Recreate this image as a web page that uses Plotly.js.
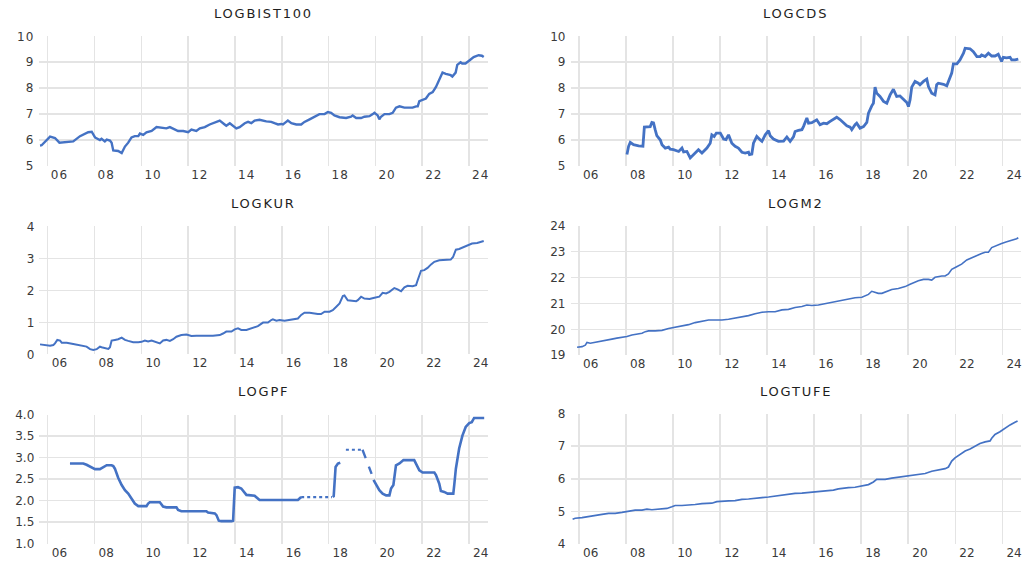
<!DOCTYPE html>
<html><head><meta charset="utf-8">
<script src="https://cdn.plot.ly/plotly-3.0.1.min.js"></script>
<style>
html,body{margin:0;padding:0;background:#fff;}
#chart{width:1034px;height:563px;}
.xtick text,.ytick text{letter-spacing:1px;}
.annotation-text{letter-spacing:1.8px;}
</style></head><body><div id="chart"></div>
<script>
// ---- Data (decimal years) ----
const bistDate = [2005.67,2005.74,2006.10,2006.31,2006.50,2007.09,2007.38,2007.59,2007.73,2007.88,2008.02,2008.23,2008.30,2008.44,2008.52,2008.66,2008.73,2008.80,2009.01,2009.16,2009.30,2009.44,2009.58,2009.72,2009.87,2009.94,2010.08,2010.22,2010.44,2010.65,2010.86,2011.07,2011.22,2011.36,2011.57,2011.79,2012.00,2012.14,2012.35,2012.50,2012.71,2012.92,2013.21,2013.35,2013.56,2013.63,2013.78,2013.92,2014.06,2014.20,2014.42,2014.56,2014.70,2014.84,2015.05,2015.34,2015.55,2015.69,2015.84,2015.98,2016.05,2016.19,2016.26,2016.41,2016.62,2016.83,2016.97,2017.19,2017.40,2017.61,2017.83,2017.97,2018.11,2018.25,2018.47,2018.75,2018.96,2019.03,2019.18,2019.39,2019.53,2019.75,2019.89,2019.96,2020.10,2020.17,2020.24,2020.39,2020.60,2020.74,2020.88,2021.03,2021.24,2021.59,2021.74,2021.81,2021.88,2022.02,2022.16,2022.30,2022.45,2022.59,2022.73,2022.87,2023.01,2023.22,2023.29,2023.43,2023.50,2023.64,2023.71,2023.85,2023.99,2024.20,2024.41,2024.55,2024.63];
const bistVal = [5.79,5.80,6.13,6.08,5.90,5.95,6.15,6.25,6.30,6.32,6.10,6.00,6.05,5.95,6.02,5.98,5.90,5.60,5.58,5.50,5.75,5.90,6.10,6.15,6.15,6.25,6.20,6.30,6.35,6.50,6.48,6.45,6.50,6.45,6.35,6.35,6.30,6.40,6.35,6.45,6.50,6.60,6.70,6.75,6.60,6.55,6.65,6.55,6.45,6.50,6.65,6.70,6.65,6.75,6.78,6.72,6.70,6.65,6.60,6.62,6.60,6.70,6.75,6.65,6.60,6.60,6.70,6.80,6.90,7.00,7.00,7.08,7.05,6.95,6.88,6.85,6.90,6.95,6.85,6.85,6.90,6.92,7.00,7.05,6.95,6.80,6.90,7.00,7.00,7.05,7.25,7.30,7.25,7.25,7.30,7.30,7.50,7.55,7.60,7.78,7.85,8.05,8.35,8.60,8.55,8.50,8.45,8.60,8.90,9.00,8.95,8.95,9.05,9.20,9.27,9.25,9.20];

const cdsDate = [2008.04,2008.11,2008.18,2008.32,2008.54,2008.65,2008.72,2008.78,2008.96,2009.03,2009.10,2009.17,2009.24,2009.31,2009.46,2009.53,2009.67,2009.81,2009.88,2010.02,2010.24,2010.38,2010.45,2010.59,2010.73,2010.80,2010.94,2011.08,2011.23,2011.44,2011.58,2011.65,2011.75,2011.84,2012.01,2012.15,2012.25,2012.36,2012.50,2012.64,2012.78,2012.93,2013.07,2013.21,2013.25,2013.35,2013.42,2013.56,2013.71,2013.78,2013.92,2014.06,2014.13,2014.27,2014.48,2014.70,2014.84,2014.91,2014.98,2015.12,2015.19,2015.33,2015.48,2015.55,2015.69,2015.76,2015.90,2016.11,2016.25,2016.40,2016.54,2016.68,2016.82,2016.96,2017.10,2017.25,2017.39,2017.53,2017.60,2017.74,2017.81,2017.95,2018.10,2018.24,2018.31,2018.45,2018.52,2018.59,2018.66,2018.80,2018.95,2019.09,2019.23,2019.37,2019.51,2019.65,2019.80,2019.94,2020.01,2020.08,2020.15,2020.29,2020.43,2020.50,2020.65,2020.79,2020.86,2021.00,2021.14,2021.21,2021.28,2021.50,2021.64,2021.78,2021.85,2021.92,2022.07,2022.20,2022.35,2022.42,2022.63,2022.77,2022.92,2023.06,2023.12,2023.27,2023.41,2023.55,2023.69,2023.83,2023.90,2023.97,2024.04,2024.18,2024.33,2024.40,2024.54,2024.68];
const cdsVal = [5.44,5.76,5.91,5.82,5.78,5.76,5.76,6.50,6.50,6.52,6.68,6.66,6.40,6.17,6.00,5.82,5.69,5.73,5.65,5.63,5.56,5.69,5.54,5.56,5.31,5.37,5.50,5.63,5.50,5.69,5.88,6.20,6.14,6.27,6.27,6.04,6.02,6.20,5.88,5.76,5.69,5.53,5.50,5.53,5.44,5.46,5.88,6.14,6.00,5.95,6.20,6.36,6.17,6.04,5.95,5.96,6.12,6.02,5.95,6.12,6.33,6.37,6.40,6.53,6.85,6.65,6.67,6.78,6.59,6.65,6.63,6.72,6.81,6.88,6.79,6.68,6.55,6.50,6.40,6.59,6.65,6.46,6.52,6.68,7.04,7.32,7.42,8.04,7.81,7.68,7.49,7.42,7.74,7.96,7.68,7.70,7.55,7.45,7.29,7.55,8.04,8.26,8.19,8.13,8.26,8.35,8.06,7.81,7.74,8.13,8.19,8.15,8.09,8.38,8.58,8.94,8.94,9.09,9.35,9.54,9.52,9.41,9.22,9.22,9.28,9.22,9.35,9.24,9.24,9.31,9.15,9.03,9.19,9.17,9.19,9.09,9.09,9.12];

const kurDate = [2005.67,2005.89,2006.10,2006.24,2006.31,2006.41,2006.53,2006.60,2006.81,2007.09,2007.38,2007.52,2007.66,2007.81,2007.95,2008.09,2008.23,2008.30,2008.44,2008.59,2008.66,2008.73,2008.87,2009.01,2009.16,2009.30,2009.44,2009.65,2009.87,2010.01,2010.15,2010.29,2010.44,2010.58,2010.79,2010.93,2011.07,2011.22,2011.36,2011.50,2011.71,2011.93,2012.14,2012.35,2012.57,2012.78,2013.06,2013.35,2013.49,2013.63,2013.85,2013.99,2014.13,2014.27,2014.49,2014.70,2014.84,2014.98,2015.20,2015.41,2015.55,2015.62,2015.77,2015.91,2016.12,2016.33,2016.55,2016.69,2016.83,2016.97,2017.19,2017.33,2017.54,2017.68,2017.83,2018.04,2018.18,2018.32,2018.47,2018.61,2018.68,2018.82,2019.03,2019.18,2019.25,2019.39,2019.53,2019.75,2019.96,2020.17,2020.31,2020.46,2020.60,2020.81,2020.95,2021.10,2021.24,2021.38,2021.59,2021.74,2021.81,2021.95,2022.09,2022.23,2022.38,2022.52,2022.73,2023.01,2023.22,2023.32,2023.44,2023.58,2023.78,2023.99,2024.13,2024.35,2024.49,2024.63];
const kurVal = [0.31,0.29,0.27,0.29,0.34,0.45,0.43,0.36,0.36,0.32,0.29,0.26,0.24,0.16,0.135,0.16,0.24,0.22,0.19,0.17,0.22,0.43,0.45,0.47,0.52,0.45,0.42,0.38,0.38,0.39,0.43,0.40,0.43,0.40,0.34,0.43,0.45,0.42,0.47,0.55,0.60,0.62,0.57,0.58,0.59,0.58,0.58,0.60,0.65,0.71,0.71,0.78,0.81,0.76,0.76,0.81,0.84,0.88,0.99,0.99,1.07,1.09,1.05,1.07,1.05,1.07,1.09,1.12,1.23,1.30,1.30,1.28,1.26,1.26,1.33,1.33,1.38,1.48,1.59,1.82,1.84,1.69,1.67,1.66,1.69,1.80,1.74,1.73,1.77,1.80,1.92,1.90,1.95,2.07,2.03,1.97,2.09,2.14,2.13,2.16,2.32,2.61,2.63,2.70,2.81,2.89,2.94,2.94,2.96,3.04,3.27,3.29,3.35,3.41,3.46,3.48,3.50,3.54];

const m2Date = [2005.92,2006.13,2006.27,2006.34,2006.48,2006.69,2006.91,2007.12,2007.40,2007.61,2007.83,2008.04,2008.25,2008.46,2008.68,2008.82,2008.96,2009.24,2009.53,2009.81,2010.09,2010.38,2010.66,2010.94,2011.23,2011.51,2011.79,2012.08,2012.36,2012.64,2012.93,2013.21,2013.49,2013.78,2014.06,2014.34,2014.63,2014.91,2015.19,2015.48,2015.69,2015.90,2016.18,2016.47,2016.75,2016.96,2017.25,2017.46,2017.74,2018.03,2018.17,2018.31,2018.45,2018.59,2018.73,2018.88,2019.09,2019.30,2019.58,2019.87,2020.08,2020.22,2020.43,2020.65,2020.86,2021.00,2021.14,2021.43,2021.57,2021.71,2021.85,2022.06,2022.27,2022.49,2022.70,2022.91,2023.12,2023.27,2023.41,2023.55,2023.69,2023.97,2024.19,2024.40,2024.61,2024.68];
const m2Val = [19.31,19.33,19.39,19.49,19.46,19.49,19.54,19.57,19.62,19.66,19.68,19.72,19.78,19.81,19.85,19.91,19.94,19.94,19.96,20.03,20.08,20.13,20.18,20.26,20.32,20.36,20.36,20.36,20.39,20.43,20.49,20.53,20.60,20.66,20.68,20.68,20.75,20.77,20.84,20.88,20.94,20.92,20.94,20.99,21.04,21.09,21.12,21.16,21.22,21.24,21.31,21.35,21.47,21.42,21.39,21.39,21.48,21.54,21.58,21.65,21.74,21.80,21.88,21.93,21.93,21.90,22.01,22.06,22.06,22.14,22.32,22.42,22.52,22.68,22.77,22.83,22.93,22.98,22.98,23.16,23.22,23.32,23.38,23.43,23.50,23.54];

const pfDate = [2006.95,2007.52,2007.66,2007.88,2008.02,2008.23,2008.37,2008.52,2008.73,2008.80,2008.87,2008.94,2009.01,2009.16,2009.30,2009.44,2009.58,2009.72,2009.87,2010.22,2010.29,2010.36,2010.79,2010.93,2011.07,2011.50,2011.57,2011.71,2012.78,2012.85,2013.14,2013.21,2013.31,2013.42,2013.85,2013.92,2013.99,2014.13,2014.27,2014.39,2014.49,2014.84,2014.98,2015.05,2016.69,2016.76,2016.83,2017.50,2018.18,2018.22,2018.30,2018.40,2018.50,2019.20,2019.92,2020.03,2020.17,2020.31,2020.46,2020.60,2020.67,2020.77,2020.88,2021.03,2021.12,2021.20,2021.66,2021.76,2021.88,2022.02,2022.52,2022.59,2022.73,2022.80,2022.94,2023.09,2023.33,2023.37,2023.44,2023.58,2023.72,2023.86,2024.01,2024.12,2024.22,2024.65];
const pfVal = [2.86,2.86,2.83,2.77,2.73,2.73,2.78,2.82,2.82,2.80,2.74,2.63,2.53,2.36,2.24,2.16,2.03,1.93,1.87,1.87,1.93,1.96,1.96,1.86,1.84,1.84,1.78,1.75,1.75,1.72,1.70,1.66,1.53,1.52,1.52,1.53,2.30,2.31,2.28,2.20,2.13,2.11,2.05,2.01,2.01,2.05,2.08,null,2.08,2.10,2.78,2.86,2.88,null,2.48,2.37,2.24,2.16,2.12,2.12,2.28,2.36,2.82,2.86,2.90,2.94,2.94,2.82,2.70,2.65,2.65,2.59,2.39,2.22,2.20,2.16,2.16,2.36,2.74,3.21,3.51,3.71,3.80,3.82,3.92,3.92];
// PF stretches drawn dotted / dashed in the original
const pfDotDate = [2016.83,2018.15,2018.45,2018.74,2019.45];
const pfDotVal  = [2.08,2.08,null,3.18,3.18];
const pfDashDate = [2019.45,2019.84];
const pfDashVal  = [3.18,2.62];

const tufeDate = [2005.73,2005.84,2006.13,2006.41,2006.69,2006.98,2007.26,2007.54,2007.83,2008.11,2008.39,2008.68,2008.89,2009.10,2009.39,2009.74,2009.95,2010.09,2010.38,2010.66,2010.94,2011.23,2011.65,2011.86,2012.08,2012.36,2012.64,2012.93,2013.21,2013.49,2013.78,2014.06,2014.34,2014.63,2014.91,2015.19,2015.48,2015.76,2016.04,2016.33,2016.61,2016.82,2017.03,2017.25,2017.46,2017.74,2018.03,2018.31,2018.52,2018.66,2018.80,2019.02,2019.30,2019.58,2019.87,2020.15,2020.43,2020.72,2021.00,2021.28,2021.57,2021.71,2021.85,2021.99,2022.20,2022.42,2022.63,2022.91,2023.05,2023.27,2023.48,2023.55,2023.69,2023.90,2024.12,2024.33,2024.54,2024.65];
const tufeVal = [4.76,4.79,4.81,4.85,4.87,4.91,4.94,4.94,4.97,5.01,5.04,5.04,5.07,5.05,5.07,5.09,5.14,5.18,5.18,5.19,5.21,5.24,5.25,5.30,5.30,5.32,5.33,5.37,5.38,5.39,5.42,5.44,5.47,5.49,5.52,5.55,5.56,5.58,5.60,5.62,5.64,5.65,5.69,5.72,5.73,5.74,5.78,5.82,5.90,5.98,5.98,5.98,6.02,6.05,6.08,6.10,6.13,6.16,6.23,6.27,6.31,6.36,6.54,6.64,6.74,6.85,6.91,7.01,7.08,7.13,7.16,7.24,7.36,7.44,7.55,7.65,7.73,7.77];

const panelTitles = ['LOGBIST100','LOGCDS','LOGKUR','LOGM2','LOGPF','LOGTUFE'];
const yearGrid = [2006,2008,2010,2012,2014,2016,2018,2020,2022,2024];
const yearLabels = ['06','08','10','12','14','16','18','20','22','24'];
const yTicks = [[5,6,7,8,9,10],[5,6,7,8,9,10],[0,1,2,3,4],[19,20,21,22,23,24],[1.0,1.5,2.0,2.5,3.0,3.5,4.0],[4,5,6,7,8]];

// ---- Layout ----
const BLUE = '#4472C4';
const GRID = '#e4e4e4';
const W = 1034, H = 563;
const colX = [[39.3/W, 487.7/W],[570.5/W, 1021.1/W]];
const rowY = [
  [[1-166/H, 1-36.3/H],[1-166/H, 1-36.3/H]],
  [[1-354.3/H, 1-226.3/H],[1-355.2/H, 1-225.8/H]],
  [[1-543.5/H, 1-414.5/H],[1-544/H, 1-413.5/H]]
];
const titleY = [1-14/H, 1-203/H, 1-391/H];

const tickFont = {family:'DejaVu Sans, Verdana, sans-serif', size:12, color:'#3a3a3a'};
const layout = {
  width:W, height:H, margin:{l:0,r:0,t:0,b:0},
  paper_bgcolor:'#fff', plot_bgcolor:'#fff', showlegend:false,
  annotations:[]
};
for (let i=0;i<6;i++){
  const r = Math.floor(i/2), c = i%2, n = i+1;
  const xs = n===1?'x':'x'+n, ys = n===1?'y':'y'+n;
  layout['xaxis'+(n===1?'':n)] = {
    domain: colX[c], anchor: ys, range:[2005.64, 2024.8],
    tickmode:'array', tickvals: yearGrid.map(v=>v+0.5), ticktext: yearLabels,
    showgrid:false, zeroline:false, showline:false, ticks:'', tickfont:tickFont,
    minor:{tickmode:'array', tickvals: yearGrid, showgrid:true, gridcolor:GRID, gridwidth:1.5, ticks:''},
    fixedrange:true
  };
  const yt = yTicks[i];
  layout['yaxis'+(n===1?'':n)] = {
    domain: rowY[r][c], anchor: xs, range:[yt[0], yt[yt.length-1]],
    tickmode:'array', tickvals: yt, ticktext: yt.map(v => i===4 ? v.toFixed(1) : String(v)),
    showgrid:true, gridcolor:GRID, gridwidth:1.5, zeroline:false, showline:false, ticks:'',
    tickfont:tickFont, ticklabelstandoff:4, fixedrange:true
  };
  layout.annotations.push({
    text: panelTitles[i], xref:'paper', yref:'paper',
    x:(colX[c][0]+colX[c][1])/2, y:titleY[r], xanchor:'center', yanchor:'middle',
    showarrow:false, font:{family:'DejaVu Sans, Verdana, sans-serif', size:13, color:'#1e1e1e'}
  });
}

function line(x, y, n, width, dash){
  return {x, y, xaxis: n===1?'x':'x'+n, yaxis: n===1?'y':'y'+n, type:'scatter', mode:'lines',
    line:{color:BLUE, width, dash: dash||'solid'}, connectgaps:false, hoverinfo:'skip'};
}
const data = [
  line(bistDate, bistVal, 1, 2.4),
  line(cdsDate, cdsVal, 2, 2.8),
  line(kurDate, kurVal, 3, 2),
  line(m2Date, m2Val, 4, 1.6),
  line(pfDate, pfVal, 5, 2.6),
  line(pfDotDate, pfDotVal, 5, 2.2, 'dot'),
  line(pfDashDate, pfDashVal, 5, 2.4, 'dash'),
  line(tufeDate, tufeVal, 6, 1.7)
];
Plotly.newPlot('chart', data, layout, {staticPlot:true, displayModeBar:false});
</script></body></html>
